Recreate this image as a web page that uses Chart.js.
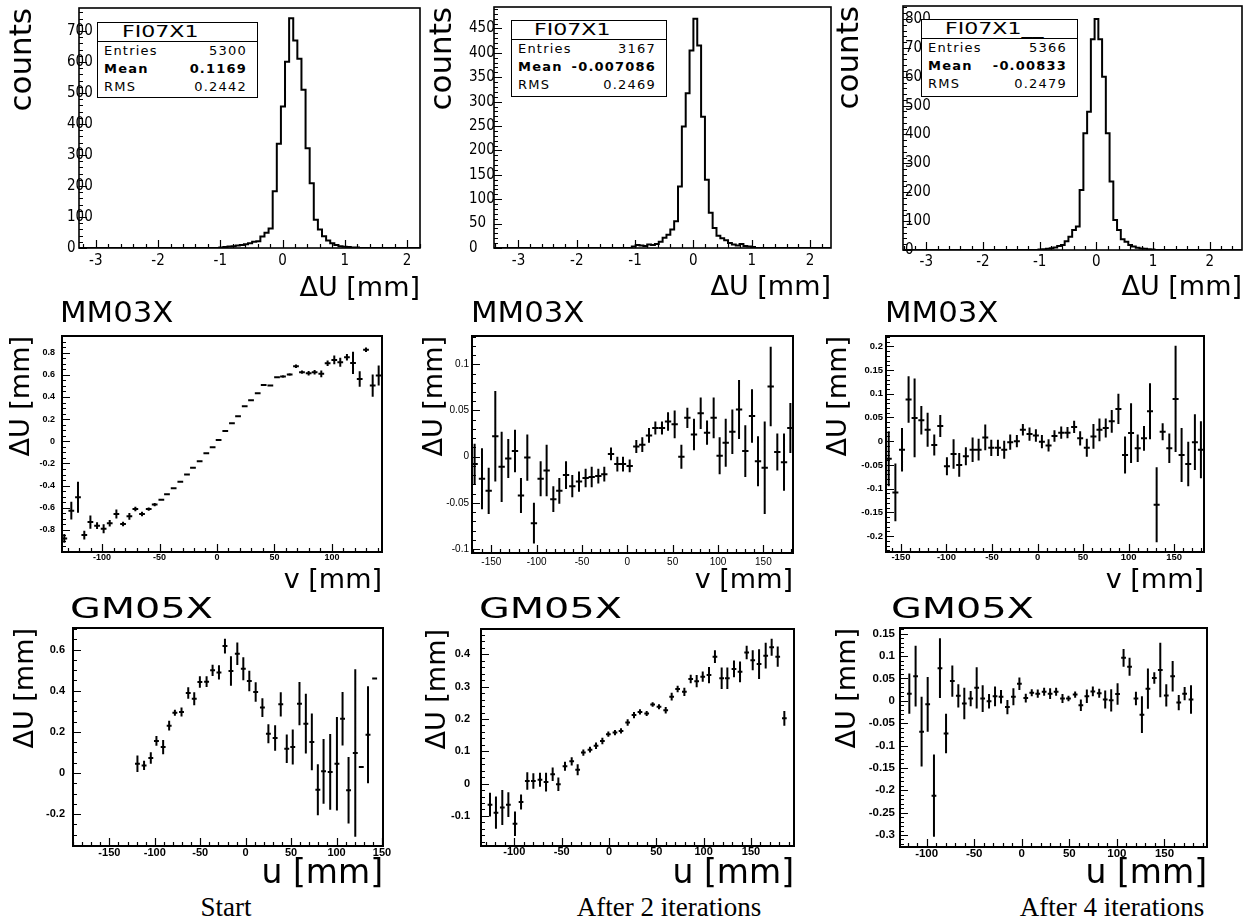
<!DOCTYPE html>
<html>
<head>
<meta charset="utf-8">
<title>Alignment residuals</title>
<script src="https://cdn.jsdelivr.net/npm/chart.js@4.4.1/dist/chart.umd.min.js"></script>
<style>
  html, body { margin: 0; padding: 0; background: #fff; }
  body { position: relative; width: 1259px; height: 924px; overflow: hidden; }
  canvas { position: absolute; }
  .ptitle { position: absolute; font: 28px 'DejaVu Sans', sans-serif; line-height: 1; color: #000; white-space: nowrap; transform-origin: 0 0; }
  .stat { position: absolute; z-index: 2; box-sizing: border-box; border: 1.5px solid #000; background: #fff; font-family: 'DejaVu Sans', sans-serif; color: #000; }
  .stat .hd { box-sizing: border-box; height: 19px; line-height: 18px; border-bottom: 1.5px solid #000; font-size: 16px; white-space: nowrap; }
  .stat .hd span { display: inline-block; transform: scaleX(1.38); transform-origin: 0 50%; }
  .stat .row { display: flex; justify-content: space-between; height: 18px; line-height: 18px; font-size: 13px; letter-spacing: 1.2px; padding: 0 10px 0 6px; }
  .stat .bold { font-weight: bold; }
  .caption { position: absolute; width: 300px; text-align: center; font: 27px 'Liberation Serif', serif; line-height: 1; color: #000; }
</style>
</head>
<body>
<script>
// ---- histograms (top row): bin width, first bin edge, counts
const hBinWidth = 0.066;
const h1Start = -1.017;
const h1Counts = [2, 3, 5, 6, 8, 10, 12, 15, 20, 22, 37, 49, 63, 183, 336, 456, 601, 741,
                  669, 610, 510, 322, 209, 91, 60, 38, 24, 15, 10, 6, 4, 3, 2, 2];
const h2Start = -1.056;
const h2Counts = [3, 6, 5, 4, 7, 6, 8, 13, 21, 27, 38, 55, 126, 249, 317, 405, 470,
                  415, 269, 140, 72, 41, 25, 20, 16, 10, 7, 5, 8, 4, 3, 2];
const h3Start = -1.02;
const h3Counts = [2, 3, 4, 6, 9, 14, 17, 30, 46, 69, 81, 208, 404, 479, 730, 800,
                  730, 600, 404, 237, 104, 69, 37, 29, 17, 12, 8, 5, 4, 3, 2];

const statNames = ['FI07X1', 'FI07X1', 'FI07X1__'];
const statEntries = ['5300', '3167', '5366'];
const statMeans = ['0.1169', '-0.007086', '-0.00833'];
const statRms = ['0.2442', '0.2469', '0.2479'];

// ---- MM03X profiles (middle row)
const mm03StartX = [-132.8, -126.7, -120.9, -115.4, -110.1, -104.3, -98.6, -93.3, -87.5, -81.7, -76.2, -71.0, -65.2, -59.4, -54.2, -48.4, -43.5, -37.7, -31.9, -26.1, -20.9, -15.1, -9.3, -3.8, 1.4, 7.2, 13.0, 18.3, 24.1, 29.6, 35.4, 40.6, 46.4, 52.2, 57.4, 63.2, 68.7, 73.9, 79.7, 84.9, 90.7, 96.2, 102.0, 107.2, 113.0, 118.3, 124.1, 129.6, 135.4, 140.6];
const mm03StartY = [-0.877, -0.627, -0.506, -0.847, -0.73, -0.762, -0.79, -0.74, -0.657, -0.747, -0.678, -0.612, -0.657, -0.612, -0.572, -0.527, -0.479, -0.425, -0.365, -0.301, -0.238, -0.181, -0.108, -0.054, 0.012, 0.093, 0.163, 0.226, 0.316, 0.371, 0.434, 0.509, 0.503, 0.578, 0.585, 0.603, 0.678, 0.624, 0.615, 0.624, 0.609, 0.705, 0.735, 0.714, 0.759, 0.708, 0.563, 0.826, 0.503, 0.594];
const mm03StartErr = [0.04, 0.08, 0.14, 0.04, 0.06, 0.03, 0.04, 0.03, 0.04, 0.02, 0.03, 0.02, 0.02, 0.015, 0.015, 0.008, 0.008, 0.008, 0.008, 0.008, 0.008, 0.008, 0.008, 0.008, 0.008, 0.008, 0.008, 0.008, 0.008, 0.008, 0.008, 0.008, 0.008, 0.008, 0.012, 0.012, 0.015, 0.015, 0.02, 0.02, 0.03, 0.025, 0.04, 0.04, 0.03, 0.10, 0.07, 0.02, 0.10, 0.09];

const mm03Iter2X = [-168.4, -160.3, -152.9, -145.6, -138.6, -131.3, -123.9, -117.3, -110.3, -103.0, -95.6, -89.0, -81.6, -75.0, -67.6, -60.7, -53.3, -46.0, -39.3, -32.0, -25.4, -18.0, -11.0, -4.8, 2.6, 9.9, 16.5, 23.9, 30.9, 38.2, 44.9, 52.2, 59.6, 66.2, 73.5, 80.9, 87.9, 95.2, 101.8, 108.5, 115.8, 123.2, 130.1, 137.5, 144.1, 151.5, 158.1, 165.4, 172.8, 179.8];
const mm03Iter2Y = [-0.008, -0.024, -0.037, 0.022, -0.011, -0.002, 0.006, -0.042, -0.001, -0.072, -0.024, -0.015, -0.046, -0.037, -0.020, -0.032, -0.027, -0.023, -0.022, -0.021, -0.019, 0.003, -0.008, -0.008, -0.010, 0.011, 0.013, 0.023, 0.031, 0.031, 0.038, 0.035, 0.000, 0.042, 0.024, 0.047, 0.026, 0.042, 0.001, 0.015, 0.027, 0.051, 0.006, 0.044, -0.005, -0.012, 0.076, 0.005, -0.006, 0.031];
const mm03Iter2Err = [0.022, 0.033, 0.025, 0.049, 0.038, 0.021, 0.023, 0.019, 0.025, 0.022, 0.019, 0.028, 0.014, 0.014, 0.015, 0.012, 0.011, 0.010, 0.011, 0.008, 0.008, 0.007, 0.008, 0.008, 0.007, 0.007, 0.008, 0.008, 0.007, 0.007, 0.010, 0.015, 0.013, 0.011, 0.017, 0.017, 0.013, 0.022, 0.020, 0.026, 0.024, 0.032, 0.028, 0.029, 0.027, 0.050, 0.043, 0.020, 0.031, 0.027];

const mm03Iter4X = [-163.4, -156.1, -148.8, -141.6, -135.0, -127.6, -120.7, -113.4, -106.8, -99.5, -92.2, -86.0, -78.7, -71.3, -64.7, -57.4, -50.8, -43.5, -36.6, -30.0, -22.7, -16.1, -8.8, -1.8, 4.8, 12.1, 18.6, 26.0, 32.9, 40.2, 46.8, 54.1, 61.4, 68.0, 74.9, 81.5, 88.8, 96.1, 102.7, 110.0, 116.9, 123.5, 130.8, 137.4, 144.7, 151.6, 158.2, 165.5, 172.8, 179.4];
const mm03Iter4Y = [-0.037, -0.108, -0.018, 0.088, 0.049, 0.044, 0.024, -0.008, 0.032, -0.053, -0.027, -0.050, -0.032, -0.018, -0.018, 0.008, -0.014, -0.014, -0.018, -0.002, 0.000, 0.024, 0.015, 0.012, -0.001, -0.009, 0.011, 0.018, 0.018, 0.030, 0.006, -0.014, 0.010, 0.024, 0.028, 0.042, 0.068, -0.029, 0.017, -0.015, 0.006, 0.063, -0.134, 0.020, -0.015, 0.089, -0.029, -0.048, -0.002, -0.018];
const mm03Iter4Err = [0.058, 0.061, 0.046, 0.049, 0.083, 0.030, 0.036, 0.022, 0.023, 0.019, 0.031, 0.025, 0.019, 0.026, 0.023, 0.027, 0.017, 0.017, 0.019, 0.016, 0.013, 0.012, 0.014, 0.013, 0.014, 0.013, 0.012, 0.013, 0.012, 0.013, 0.015, 0.019, 0.026, 0.024, 0.020, 0.024, 0.032, 0.039, 0.063, 0.029, 0.026, 0.059, 0.079, 0.018, 0.031, 0.112, 0.057, 0.047, 0.059, 0.060];

// ---- GM05X profiles (bottom row)
const gm05StartX = [-119.1, -111.8, -104.4, -98.2, -90.8, -84.2, -77.9, -70.6, -63.2, -56.6, -50.4, -43.0, -36.4, -29.4, -22.8, -16.2, -9.2, -2.6, 4.0, 11.0, 18.4, 25.0, 32.4, 38.6, 45.2, 51.8, 59.2, 66.2, 72.8, 79.4, 85.7, 93.0, 100.4, 106.6, 113.2, 120.6, 127.2, 134.6, 141.9];
const gm05StartY = [0.045, 0.037, 0.073, 0.156, 0.126, 0.230, 0.293, 0.297, 0.389, 0.361, 0.442, 0.444, 0.499, 0.489, 0.617, 0.496, 0.580, 0.507, 0.447, 0.394, 0.318, 0.191, 0.170, 0.334, 0.118, 0.126, 0.337, 0.240, 0.151, -0.081, 0.008, 0.005, 0.045, 0.264, -0.084, 0.097, 0.029, 0.186, 0.459];
const gm05StartErr = [0.040, 0.023, 0.028, 0.024, 0.035, 0.024, 0.015, 0.022, 0.028, 0.032, 0.028, 0.026, 0.027, 0.035, 0.036, 0.072, 0.055, 0.056, 0.050, 0.047, 0.046, 0.046, 0.062, 0.059, 0.069, 0.085, 0.105, 0.145, 0.138, 0.124, 0.157, 0.184, 0.227, 0.130, 0.162, 0.407, 0, 0.236, 0];

const gm05Iter2X = [-125.7, -119.4, -112.7, -106.3, -99.3, -92.9, -86.3, -79.9, -72.9, -66.5, -59.5, -53.5, -46.5, -39.4, -33.1, -27.1, -20.1, -13.7, -7.0, -0.7, 6.3, 12.7, 19.7, 26.4, 32.7, 39.8, 46.1, 52.8, 59.9, 66.2, 72.5, 79.6, 86.3, 92.6, 99.0, 105.6, 111.9, 119.0, 125.0, 132.0, 138.4, 145.4, 151.8, 158.5, 165.5, 171.8, 178.2, 185.2];
const gm05Iter2Y = [-0.065, -0.090, -0.074, -0.065, -0.124, -0.057, 0.008, 0.008, 0.012, 0.005, 0.029, -0.002, 0.054, 0.069, 0.043, 0.096, 0.105, 0.117, 0.132, 0.153, 0.158, 0.163, 0.189, 0.212, 0.222, 0.217, 0.245, 0.238, 0.227, 0.269, 0.293, 0.284, 0.324, 0.317, 0.331, 0.336, 0.393, 0.326, 0.326, 0.355, 0.346, 0.406, 0.382, 0.370, 0.396, 0.422, 0.393, 0.202];
const gm05Iter2Err = [0.037, 0.050, 0.054, 0.038, 0.038, 0.023, 0.027, 0.024, 0.022, 0.029, 0.021, 0.021, 0.014, 0.013, 0.017, 0.010, 0.009, 0.010, 0.010, 0.008, 0.008, 0.008, 0.010, 0.010, 0.008, 0.008, 0.007, 0.008, 0.010, 0.012, 0.010, 0.013, 0.013, 0.019, 0.016, 0.025, 0.020, 0.033, 0.033, 0.026, 0.032, 0.021, 0.031, 0.046, 0.040, 0.026, 0.031, 0.023];

const gm05Iter4X = [-118.2, -111.6, -105.3, -98.9, -92.3, -86.0, -79.6, -73.0, -66.7, -60.4, -53.7, -47.4, -41.1, -34.4, -28.1, -21.8, -15.1, -8.8, -2.5, 4.2, 10.5, 16.8, 23.5, 29.8, 36.1, 42.8, 49.1, 56.1, 62.1, 68.4, 74.7, 81.4, 87.7, 94.0, 100.7, 107.0, 113.3, 120.0, 126.3, 132.6, 139.3, 145.6, 151.9, 158.6, 165.0, 171.2, 177.9];
const gm05Iter4Y = [0.016, 0.055, -0.069, -0.008, -0.212, 0.073, -0.073, 0.044, 0.011, -0.006, 0.005, 0.029, 0.005, -0.001, 0.010, 0.009, -0.014, 0.009, 0.038, 0.006, 0.018, 0.016, 0.020, 0.016, 0.020, 0.005, 0.005, 0.014, -0.010, 0.010, 0.021, 0.017, 0.003, 0.001, 0.015, 0.096, 0.076, 0.005, -0.031, 0.027, 0.051, 0.069, 0.012, 0.055, -0.004, 0.016, 0.003];
const gm05Iter4Err = [0.045, 0.068, 0.078, 0.061, 0.092, 0.067, 0.044, 0.035, 0.026, 0.035, 0.017, 0.046, 0.030, 0.016, 0.022, 0.015, 0.016, 0.019, 0.014, 0.010, 0.008, 0.009, 0.009, 0.012, 0.009, 0.010, 0.006, 0.007, 0.013, 0.015, 0.011, 0.010, 0.020, 0.025, 0.024, 0.020, 0.020, 0.015, 0.041, 0.045, 0.013, 0.061, 0.025, 0.034, 0.017, 0.015, 0.032];

// ---- tick labels
const histXTicks = [-3, -2, -1, 0, 1, 2];
const h1YTicks = [0, 100, 200, 300, 400, 500, 600, 700];
const h2YTicks = [0, 50, 100, 150, 200, 250, 300, 350, 400, 450];
const h3YTicks = [0, 100, 200, 300, 400, 500, 600, 700, 800];
const mm03StartXTicks = [-100, -50, 0, 50, 100];
const mm03StartYTicks = [-0.8, -0.6, -0.4, -0.2, 0, 0.2, 0.4, 0.6, 0.8];
const mm03IterXTicks = [-150, -100, -50, 0, 50, 100, 150];
const mm03Iter2YTicks = [-0.1, -0.05, 0, 0.05, 0.1];
const mm03Iter4YTicks = [-0.2, -0.15, -0.1, -0.05, 0, 0.05, 0.1, 0.15, 0.2];
const gm05StartXTicks = [-150, -100, -50, 0, 50, 100, 150];
const gm05StartYTicks = [-0.2, 0, 0.2, 0.4, 0.6];
const gm05IterXTicks = [-100, -50, 0, 50, 100, 150];
const gm05Iter2YTicks = [-0.1, 0, 0.1, 0.2, 0.3, 0.4];
const gm05Iter4YTicks = [-0.3, -0.25, -0.2, -0.15, -0.1, -0.05, 0, 0.05, 0.1, 0.15];

const captions = ['Start', 'After 2 iterations', 'After 4 iterations'];

Chart.defaults.color = '#000';

// ROOT-like frame with inward tick marks
function tickValues(min, max, step, majors) {
  const out = [];
  for (let k = Math.ceil(min / step - 1e-9); k * step <= max + 1e-9; k++) {
    const v = k * step;
    out.push([v, majors.some(m => Math.abs(m - v) < step * 1e-3)]);
  }
  return out;
}

const rootFrame = {
  id: 'rootFrame',
  afterDraw(chart, args, o) {
    const { ctx, chartArea: a } = chart;
    const sx = chart.scales.x, sy = chart.scales.y;
    ctx.save();
    ctx.strokeStyle = '#000';
    ctx.lineWidth = 1.2;
    ctx.beginPath();
    tickValues(sx.min, sx.max, o.xMinor, o.xMajor).forEach(([v, major]) => {
      const px = Math.round(sx.getPixelForValue(v)) + 0.5;
      ctx.moveTo(px, a.bottom);
      ctx.lineTo(px, a.bottom - (major ? 8 : 4));
    });
    tickValues(sy.min, sy.max, o.yMinor, o.yMajor).forEach(([v, major]) => {
      const py = Math.round(sy.getPixelForValue(v)) + 0.5;
      ctx.moveTo(a.left, py);
      ctx.lineTo(a.left + (major ? 8 : 4), py);
    });
    ctx.stroke();
    ctx.lineWidth = o.lw;
    ctx.strokeRect(a.left, a.top, a.right - a.left, a.bottom - a.top);
    ctx.restore();
  }
};
Chart.register(rootFrame);

const sansFamily = "'DejaVu Sans', sans-serif";
const histTickFont = { family: "'DejaVu Sans Condensed', 'Liberation Sans Narrow', 'DejaVu Sans', sans-serif", size: 15 };
const titleFont = size => ({ family: sansFamily, size: size, lineHeight: 1 });
const boldTick = size => ({ family: "'Liberation Sans', Arial, sans-serif", size: size, weight: 'bold' });
const plainTick = size => ({ family: "'Liberation Sans', Arial, sans-serif", size: size });

function histPoints(start, counts, xmin, xmax) {
  const pts = [{ x: xmin, y: 0 }];
  counts.forEach((c, k) => pts.push({ x: start + k * hBinWidth, y: c }));
  pts.push({ x: start + counts.length * hBinWidth, y: 0 }, { x: xmax, y: 0 });
  return pts;
}

function histDataset(pts) {
  return { data: pts, stepped: true, borderColor: '#000', borderWidth: 2, pointRadius: 0, fill: false };
}

// each profile point: horizontal bin bar + vertical error bar, split by gaps
function errorBarDataset(xs, ys, es, halfBin) {
  const pts = [];
  xs.forEach((x, i) => {
    pts.push({ x: x - halfBin, y: ys[i] }, { x: x + halfBin, y: ys[i] }, { x: x, y: null });
    if (es[i] > 0) pts.push({ x: x, y: ys[i] - es[i] }, { x: x, y: ys[i] + es[i] }, { x: x, y: null });
  });
  return { data: pts, borderColor: '#000', borderWidth: 2, pointRadius: 0, fill: false, spanGaps: false };
}

function axisOpts(a, which, size) {
  return {
    type: 'linear',
    position: which === 'x' ? 'bottom' : 'left',
    min: a.min,
    max: a.max,
    grid: { display: false, drawTicks: false, tickLength: 0 },
    border: { display: false },
    ticks: { font: a.font, color: '#000', padding: a.pad, mirror: !!a.mirror, maxRotation: 0, minRotation: 0, autoSkip: false,
             callback: v => String(v) },
    title: { display: true, text: a.title, align: 'end', color: '#000', padding: 0, font: a.titleFont },
    afterBuildTicks: s => { s.ticks = a.ticks.map(v => ({ value: v })); },
    afterFit: s => {
      if (which === 'x') { s.height = size; s.paddingLeft = 0; s.paddingRight = 0; }
      else { s.width = size; s.paddingTop = 0; s.paddingBottom = 0; }
    }
  };
}

function addPanel(p) {
  const [cl, ct, cw, ch] = p.box;
  const [fl, ft, fr, fb] = p.frame;
  const cv = document.createElement('canvas');
  cv.width = cw; cv.height = ch;
  cv.style.left = cl + 'px'; cv.style.top = ct + 'px';
  cv.style.width = cw + 'px'; cv.style.height = ch + 'px';
  document.body.appendChild(cv);
  new Chart(cv, {
    type: 'line',
    data: { datasets: p.datasets },
    options: {
      responsive: false, animation: false, devicePixelRatio: 1, events: [],
      layout: { padding: { left: 0, top: ft - ct, right: cl + cw - fr, bottom: 0 } },
      plugins: {
        legend: { display: false }, tooltip: { enabled: false },
        rootFrame: { xMajor: p.x.ticks, xMinor: p.x.minor, yMajor: p.y.ticks, yMinor: p.y.minor, lw: p.lw }
      },
      scales: { x: axisOpts(p.x, 'x', ct + ch - fb), y: axisOpts(p.y, 'y', fl - cl) }
    }
  });
}

// ---- top row: residual histograms (y labels overlap the frame as in the original)
addPanel({
  box: [7, 0, 417, 302], frame: [79, 8, 420, 248], lw: 1.6,
  x: { min: -3.27, max: 2.207, ticks: histXTicks, minor: 0.2, font: histTickFont, pad: 4, title: 'ΔU [mm]', titleFont: titleFont(27) },
  y: { min: 0, max: 774, ticks: h1YTicks, minor: 20, font: histTickFont, pad: -12, mirror: true, title: 'counts', titleFont: titleFont(31) },
  datasets: [histDataset(histPoints(h1Start, h1Counts, -3.27, 2.207))]
});
addPanel({
  box: [427, 0, 408, 301], frame: [494, 7, 831, 248], lw: 1.6,
  x: { min: -3.42, max: 2.36, ticks: histXTicks, minor: 0.2, font: histTickFont, pad: 4, title: 'ΔU [mm]', titleFont: titleFont(27) },
  y: { min: 0, max: 494, ticks: h2YTicks, minor: 10, font: histTickFont, pad: -25, mirror: true, title: 'counts', titleFont: titleFont(31) },
  datasets: [histDataset(histPoints(h2Start, h2Counts, -3.42, 2.36))]
});
addPanel({
  box: [834, 0, 412, 301], frame: [903, 6, 1242, 250], lw: 1.6,
  x: { min: -3.41, max: 2.57, ticks: histXTicks, minor: 0.2, font: histTickFont, pad: 3, title: 'ΔU [mm]', titleFont: titleFont(27) },
  y: { min: 0, max: 845, ticks: h3YTicks, minor: 20, font: histTickFont, pad: 2, mirror: true, title: 'counts', titleFont: titleFont(31) },
  datasets: [histDataset(histPoints(h3Start, h3Counts, -3.41, 2.57))]
});

// ---- middle row: MM03X
addPanel({
  box: [8, 330, 380, 264], frame: [62, 336, 382, 552], lw: 2,
  x: { min: -134.8, max: 143.5, ticks: mm03StartXTicks, minor: 10, font: boldTick(9), pad: 0, title: 'v [mm]', titleFont: titleFont(27) },
  y: { min: -1.0, max: 0.951, ticks: mm03StartYTicks, minor: 0.05, font: boldTick(9), pad: 7, title: 'ΔU [mm]', titleFont: titleFont(27) },
  datasets: [errorBarDataset(mm03StartX, mm03StartY, mm03StartErr, 2.5)]
});
addPanel({
  box: [421, 330, 378, 264], frame: [472, 336, 793, 553], lw: 2,
  x: { min: -171.3, max: 182.7, ticks: mm03IterXTicks, minor: 10, font: plainTick(10), pad: 3, title: 'v [mm]', titleFont: titleFont(27) },
  y: { min: -0.1043, max: 0.1306, ticks: mm03Iter2YTicks, minor: 0.01, font: plainTick(10), pad: 3, title: 'ΔU [mm]', titleFont: titleFont(27) },
  datasets: [errorBarDataset(mm03Iter2X, mm03Iter2Y, mm03Iter2Err, 3.5)]
});
addPanel({
  box: [825, 330, 385, 264], frame: [886, 336, 1204, 552], lw: 2,
  x: { min: -166.4, max: 182.8, ticks: mm03IterXTicks, minor: 10, font: boldTick(9.5), pad: 0, title: 'v [mm]', titleFont: titleFont(27) },
  y: { min: -0.2337, max: 0.2218, ticks: mm03Iter4YTicks, minor: 0.01, font: boldTick(9.5), pad: 3, title: 'ΔU [mm]', titleFont: titleFont(27) },
  datasets: [errorBarDataset(mm03Iter4X, mm03Iter4Y, mm03Iter4Err, 3.3)]
});

// ---- bottom row: GM05X
addPanel({
  box: [12, 622, 380, 269], frame: [73, 628, 383, 846], lw: 2,
  x: { min: -190, max: 151.1, ticks: gm05StartXTicks, minor: 10, font: boldTick(11), pad: 0, title: 'u [mm]', titleFont: titleFont(33) },
  y: { min: -0.355, max: 0.705, ticks: gm05StartYTicks, minor: 0.05, font: boldTick(11), pad: 8, title: 'ΔU [mm]', titleFont: titleFont(27) },
  datasets: [errorBarDataset(gm05StartX, gm05StartY, gm05StartErr, 2.7)]
});
addPanel({
  box: [424, 622, 376, 269], frame: [481, 629, 794, 846], lw: 2,
  x: { min: -135.2, max: 195.4, ticks: gm05IterXTicks, minor: 10, font: boldTick(11), pad: -1, title: 'u [mm]', titleFont: titleFont(33) },
  y: { min: -0.193, max: 0.4785, ticks: gm05Iter2YTicks, minor: 0.02, font: boldTick(11), pad: 11, title: 'ΔU [mm]', titleFont: titleFont(27) },
  datasets: [errorBarDataset(gm05Iter2X, gm05Iter2Y, gm05Iter2Err, 2.5)]
});
addPanel({
  box: [834, 622, 379, 269], frame: [900, 628, 1207, 847], lw: 2,
  x: { min: -128, max: 194.7, ticks: gm05IterXTicks, minor: 10, font: boldTick(11.5), pad: 0, title: 'u [mm]', titleFont: titleFont(33) },
  y: { min: -0.3268, max: 0.1627, ticks: gm05Iter4YTicks, minor: 0.01, font: boldTick(11.5), pad: 5, title: 'ΔU [mm]', titleFont: titleFont(27) },
  datasets: [errorBarDataset(gm05Iter4X, gm05Iter4Y, gm05Iter4Err, 2.5)]
});

// ---- text overlays: stat boxes, detector names, captions
const statBoxes = [[97, 22, 161, 76, 24], [511, 20, 156, 77, 22], [921, 19, 157, 78, 23]];
statBoxes.forEach(([l, t, w, h, indent], i) => {
  const d = document.createElement('div');
  d.className = 'stat';
  Object.assign(d.style, { left: l + 'px', top: t + 'px', width: w + 'px', height: h + 'px' });
  d.innerHTML =
    `<div class="hd" style="padding-left:${indent}px"><span>${statNames[i]}</span></div>` +
    `<div class="row"><span>Entries</span><span>${statEntries[i]}</span></div>` +
    `<div class="row bold"><span>Mean</span><span>${statMeans[i]}</span></div>` +
    `<div class="row"><span>RMS</span><span>${statRms[i]}</span></div>`;
  document.body.appendChild(d);
});

// detector names are stretched horizontally in the original figure
const panelTitles = [
  ['MM03X', 60, 299, 1.1], ['MM03X', 471, 299, 1.1], ['MM03X', 885, 299, 1.1],
  ['GM05X', 70, 595, 1.42], ['GM05X', 479, 595, 1.42], ['GM05X', 891, 595, 1.42]
];
panelTitles.forEach(([txt, l, t, sx]) => {
  const d = document.createElement('div');
  d.className = 'ptitle';
  d.textContent = txt;
  Object.assign(d.style, { left: l + 'px', top: t + 'px', transform: `scaleX(${sx})` });
  document.body.appendChild(d);
});

const captionCenters = [226, 669, 1112];
captions.forEach((txt, i) => {
  const d = document.createElement('div');
  d.className = 'caption';
  d.textContent = txt;
  Object.assign(d.style, { left: (captionCenters[i] - 150) + 'px', top: '894px' });
  document.body.appendChild(d);
});
</script>
</body>
</html>
